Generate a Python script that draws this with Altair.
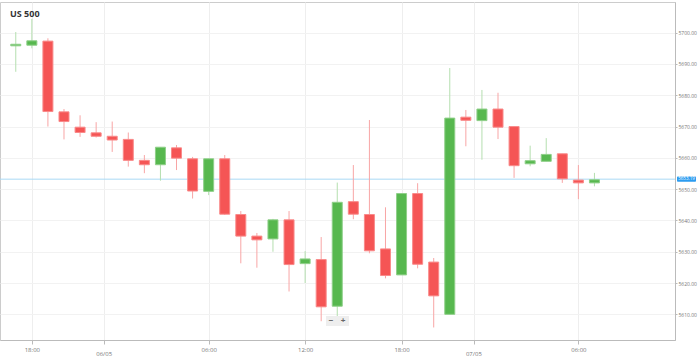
import altair as alt
import pandas as pd

idx = list(range(37))
opens = [5695.8, 5696.0, 5697.3, 5674.7, 5669.8, 5668.0, 5666.9, 5665.9, 5659.2, 5657.8,
         5663.2, 5659.7, 5649.3, 5659.7, 5641.9, 5635.0, 5634.1, 5640.2, 5626.2, 5627.5,
         5612.6, 5646.0, 5641.9, 5630.9, 5622.6, 5648.6, 5626.7, 5610.0, 5673.0, 5671.9,
         5675.6, 5670.0, 5658.1, 5658.9, 5661.3, 5652.9, 5652.0]
highs = [5700.2, 5704.4, 5698.2, 5675.6, 5673.6, 5671.4, 5671.6, 5668.1, 5660.9, 5663.4,
         5664.1, 5660.3, 5659.7, 5660.9, 5643.0, 5636.0, 5640.5, 5643.0, 5630.2, 5634.7,
         5652.1, 5657.7, 5672.1, 5644.2, 5648.6, 5651.9, 5628.0, 5688.7, 5675.3, 5681.7,
         5680.8, 5670.0, 5663.9, 5666.3, 5661.3, 5657.7, 5655.2]
lows = [5687.5, 5695.0, 5670.0, 5665.9, 5666.7, 5666.5, 5661.9, 5657.2, 5655.1, 5652.7,
        5656.1, 5647.0, 5648.1, 5641.8, 5626.3, 5624.9, 5630.0, 5617.3, 5620.0, 5607.8,
        5609.4, 5640.4, 5629.5, 5621.5, 5622.6, 5624.7, 5605.8, 5610.0, 5663.7, 5659.4,
        5666.0, 5653.6, 5657.3, 5658.9, 5652.0, 5646.8, 5650.9]
closes = [5696.3, 5697.4, 5674.8, 5671.6, 5668.1, 5666.9, 5665.7, 5659.2, 5657.8, 5663.4,
          5659.9, 5649.4, 5659.7, 5642.0, 5635.0, 5633.8, 5640.2, 5625.9, 5627.7, 5612.4,
          5645.8, 5642.0, 5630.3, 5622.4, 5648.6, 5626.0, 5615.9, 5672.7, 5672.0, 5675.6,
          5669.8, 5657.5, 5659.1, 5661.1, 5653.3, 5652.0, 5653.0]

tick_pos = [1, 5.5, 12, 18, 24, 28.5, 35]
tick_text = ["18:00", "", "06:00", "12:00", "18:00", "", "06:00"]
date_pos = [5.5, 28.5]
date_text = ["06/05", "07/05"]
y_ticks = [5610, 5620, 5630, 5640, 5650, 5660, 5670, 5680, 5690, 5700]
last_price = 5653.19
title_text = "US 500"

df = pd.DataFrame({"i": idx, "open": opens, "high": highs, "low": lows, "close": closes})
df["dir"] = ["up" if c >= o else "down" for o, c in zip(opens, closes)]

xdom = [-0.67, 40.7]
ydom = [5601.8, 5709.8]

label_map = "{" + ",".join(f"'{p}':'{t}'" for p, t in zip(tick_pos, tick_text)) + "}"

x_enc = alt.X("i:Q", scale=alt.Scale(domain=xdom, nice=False, zero=False),
              axis=alt.Axis(values=tick_pos, labelExpr=f"{label_map}[''+datum.value]",
                            title=None, grid=True, gridColor="#eeeeee", domainColor="#bbbbbb",
                            tickColor="#bbbbbb", tickSize=4, labelFontSize=6,
                            labelColor="#777777", labelPadding=2, labelFont="Open Sans"))
y_scale = alt.Scale(domain=ydom, nice=False, zero=False)
y_axis = alt.Axis(orient="right", values=y_ticks, format=".2f", title=None, grid=True,
                  gridColor="#f2f2f2", domainColor="#bbbbbb", tickColor="#bbbbbb",
                  tickSize=2, labelFontSize=5, labelColor="#777777", labelPadding=1,
                  labelFont="Open Sans")

col_scale = alt.Scale(domain=["up", "down"], range=["#57b84f", "#f55555"])
wick_scale = alt.Scale(domain=["up", "down"], range=["#b4dfaf", "#f8a5a5"])

base = alt.Chart(df)
wicks = base.mark_rule(strokeWidth=1).encode(
    x=x_enc,
    y=alt.Y("low:Q", scale=y_scale, axis=y_axis),
    y2="high:Q",
    color=alt.Color("dir:N", scale=wick_scale, legend=None),
)
bodies = base.mark_bar(size=10, strokeWidth=1, opacity=1, fillOpacity=1, strokeOpacity=1).encode(
    x=x_enc,
    y=alt.Y("open:Q", scale=y_scale, axis=y_axis),
    y2="close:Q",
    fill=alt.Fill("dir:N", scale=col_scale, legend=None),
    stroke=alt.Stroke("dir:N", scale=alt.Scale(domain=["up", "down"], range=["#8fcf89", "#f98a8a"]), legend=None),
)

price_df = pd.DataFrame({"p": [last_price], "lbl": [f"{last_price:.2f}"],
                         "hi": [last_price + 0.85], "lo": [last_price - 0.85]})
price_line = alt.Chart(price_df).mark_rule(color="#a9d9f5", strokeWidth=1).encode(
    y=alt.Y("p:Q", scale=y_scale, axis=y_axis))
price_box = alt.Chart(price_df).mark_rect(color="#2c9cf0", cornerRadius=1).encode(
    x=alt.value(677), x2=alt.value(696),
    y=alt.Y("hi:Q", scale=y_scale, axis=y_axis), y2="lo:Q")
price_txt = alt.Chart(price_df).mark_text(color="white", fontSize=4.5, align="center",
                                          baseline="middle", font="Open Sans").encode(
    x=alt.value(686.5), y=alt.Y("p:Q", scale=y_scale, axis=y_axis), text="lbl:N")

date_df = pd.DataFrame({"i": date_pos, "t": date_text})
dates = alt.Chart(date_df).mark_text(fontSize=6, color="#777777", baseline="middle",
                                     font="Open Sans").encode(
    x=alt.X("i:Q", scale=alt.Scale(domain=xdom, nice=False, zero=False)),
    y=alt.value(352), text="t:N")

title_df = pd.DataFrame({"t": [title_text]})
title = alt.Chart(title_df).mark_text(fontSize=9, fontWeight="bold", color="#333333",
                                      align="left", baseline="middle", font="Open Sans").encode(
    x=alt.value(10), y=alt.value(12), text="t:N")

btn_df = pd.DataFrame({"t": ["−", "+"], "x": [331, 343]})
btn_bg = alt.Chart(btn_df).mark_rect(color="#eeeeee").encode(
    x=alt.value(326), x2=alt.value(349), y=alt.value(314), y2=alt.value(324))
btn_txt = alt.Chart(btn_df).mark_text(fontSize=8, fontWeight="bold", color="#666666",
                                      baseline="middle").encode(
    x=alt.X("x:Q", scale=None), y=alt.value(319), text="t:N")

chart = alt.layer(
    price_line, wicks, bodies, price_box, price_txt, dates, title, btn_bg, btn_txt
).resolve_scale(x="shared").properties(
    width=675, height=338,
    padding={"left": 0, "top": 2, "right": 24, "bottom": 17},
    autosize=alt.AutoSizeParams(type="none"),
    background="white",
).configure_view(stroke="#cccccc", strokeWidth=1)

chart.save("out.html", embed_options={"renderer": "svg", "actions": False})
